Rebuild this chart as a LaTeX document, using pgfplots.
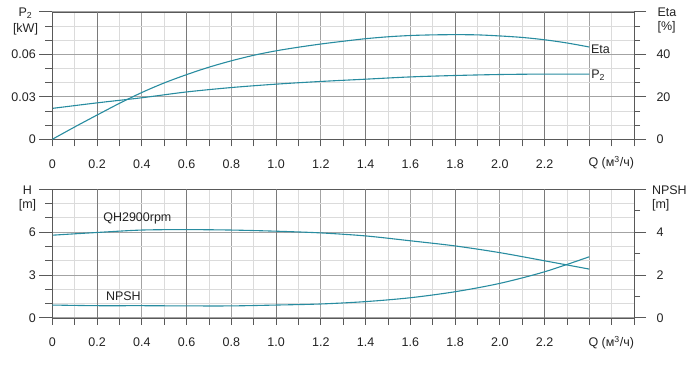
\documentclass[border=0pt]{standalone}
\usepackage{pgfplots}
\pgfplotsset{compat=1.18}
\usepackage{fontspec}
\setmainfont{Liberation Sans}
\definecolor{curve}{RGB}{40,140,160}
\definecolor{txt}{RGB}{35,35,35}

\pgfplotstableread{
x y
0 0.0218
0.2 0.0257
0.4 0.0293
0.6 0.0334
0.8 0.0365
1.0 0.0389
1.2 0.0408
1.4 0.0424
1.6 0.0440
1.8 0.0450
2.0 0.0457
2.2 0.0460
2.4 0.0460
}\ptwo

\pgfplotstableread{
x y
0 0
0.1 5.8
0.2 11.4
0.3 16.9
0.4 22.0
0.5 26.5
0.6 30.4
0.7 33.9
0.8 36.9
0.9 39.5
1.0 41.6
1.1 43.3
1.2 44.8
1.3 46.1
1.4 47.3
1.5 48.2
1.6 48.8
1.7 49.1
1.8 49.2
1.9 49.1
2.0 48.6
2.1 47.9
2.2 46.8
2.3 45.3
2.4 43.4
}\eta

\pgfplotstableread{
x y
0 5.77
0.2 5.96
0.4 6.13
0.6 6.16
0.8 6.13
1.0 6.05
1.2 5.93
1.4 5.72
1.6 5.38
1.8 5.02
2.0 4.55
2.2 3.98
2.4 3.40
}\qh

\pgfplotstableread{
x y
0 0.59
0.2 0.56
0.4 0.56
0.6 0.55
0.8 0.55
1.0 0.59
1.2 0.64
1.4 0.75
1.6 0.93
1.8 1.21
2.0 1.60
2.2 2.14
2.4 2.84
}\npsh

\pgfplotsset{
  base/.style={
    width=581.7pt, scale only axis, xmin=0, xmax=2.6,
    tick align=outside,
    scaled ticks=false,
    axis line style={draw=black!65},
    tick style={draw=black!65, line width=0.6pt},
    /pgf/number format/assume math mode=true,
    ticklabel style={text=txt, font=\fontsize{12.5}{14}\selectfont},
  },
  gridaxis/.style={
    base,
    xtick={0,0.2,0.4,0.6,0.8,1,1.2,1.4,1.6,1.8,2,2.2,2.4,2.6},
    xticklabels={0,0.2,0.4,0.6,0.8,1.0,1.2,1.4,1.6,1.8,2.0,2.2,{},{}},
    minor xtick={0.1,0.3,0.5,0.7,0.9,1.1,1.3,1.5,1.7,1.9,2.1,2.3,2.5},
    xtick pos=left,
    major tick length=7pt, minor tick length=7pt,
    xticklabel style={yshift=-10pt},
    yticklabels={{},{},{},{}},
    ytick style={draw=none},
    grid=both,
    major grid style={draw=black!36, line width=0.6pt},
    minor grid style={draw=black!14, line width=0.6pt},
    extra x ticks={0.2,0.6,1,1.4,1.8,2.2},
    extra x tick labels={},
    extra x tick style={grid=major, major grid style={draw=black!52, line width=0.6pt}, tick style={draw=none}},
  },
  lefty/.style={
    base, hide x axis, ytick pos=left, yticklabel pos=left,
    major tick length=13pt, minor tick length=7pt,
  },
  righty/.style={
    base, hide x axis, ytick pos=right, yticklabel pos=right,
    major tick length=12pt, minor tick length=6pt,
    yticklabel style={xshift=7pt},
  },
  crv/.style={draw=curve, line width=1.1pt, smooth, no markers},
}

\begin{document}
\begin{tikzpicture}[font=\fontsize{12.5}{14}\selectfont, text=txt]
\useasboundingbox (0,0) rectangle (700pt,364pt);

% ---------- top panel ----------
\begin{axis}[gridaxis, at={(52.3pt,224.7pt)}, anchor=south west, height=127.6pt,
  ymin=0, ymax=0.09, ytick={0,0.03,0.06,0.09},
  minor ytick={0.01,0.02,0.04,0.05,0.07,0.08}]
\end{axis}
\begin{axis}[lefty, at={(52.3pt,224.7pt)}, anchor=south west, height=127.6pt,
  ymin=0, ymax=0.09, ytick={0,0.03,0.06,0.09}, yticklabels={0,0.03,0.06,{}},
  minor ytick={0.01,0.02,0.04,0.05,0.07,0.08}]
\addplot[crv] table[x=x,y=y]{\ptwo};
\end{axis}
\begin{axis}[righty, at={(52.3pt,224.7pt)}, anchor=south west, height=127.6pt,
  ymin=0, ymax=60, ytick={0,20,40,60}, yticklabels={0,20,40,{}},
  minor ytick={6.667,13.333,26.667,33.333,46.667,53.333}]
\addplot[crv] table[x=x,y=y]{\eta};
\end{axis}

% ---------- bottom panel ----------
\begin{axis}[gridaxis, at={(52.3pt,46.3pt)}, anchor=south west, height=128.7pt,
  ymin=0, ymax=9, ytick={0,3,6,9},
  minor ytick={1,2,4,5,7,8}]
\end{axis}
\begin{axis}[lefty, at={(52.3pt,46.3pt)}, anchor=south west, height=128.7pt,
  ymin=0, ymax=9, ytick={0,3,6,9}, yticklabels={0,3,6,{}},
  minor ytick={1,2,4,5,7,8}]
\addplot[crv] table[x=x,y=y]{\qh};
\end{axis}
\begin{axis}[righty, at={(52.3pt,46.3pt)}, anchor=south west, height=128.7pt,
  ymin=0, ymax=6, ytick={0,2,4,6}, yticklabels={0,2,4,{}},
  minor ytick={1,3,5}]
\addplot[crv] table[x=x,y=y]{\npsh};
\end{axis}

% ---------- texts ----------
\node at (25.5pt,350.7pt) {P\textsubscript{2}};
\node at (25.5pt,335pt) {[kW]};
\node[anchor=west] at (654pt,351.7pt) {Eta};
\node[anchor=west] at (654pt,336.7pt) {[\%]};
\node[anchor=west] at (585pt,201pt) {Q (м\textsuperscript{3}/ч)};
\node[anchor=west] at (587.5pt,315pt) {Eta};
\node[anchor=west] at (587.8pt,289pt) {P\textsubscript{2}};

\node at (27.5pt,173.3pt) {H};
\node at (27.5pt,159pt) {[m]};
\node[anchor=west] at (648.5pt,174pt) {NPSH};
\node[anchor=west] at (648.5pt,159pt) {[m]};
\node[anchor=west] at (585pt,21.3pt) {Q (м\textsuperscript{3}/ч)};
\node[anchor=west] at (99.8pt,145.7pt) {QH2900rpm};
\node[anchor=west] at (102.5pt,68.3pt) {NPSH};
\end{tikzpicture}
\end{document}
